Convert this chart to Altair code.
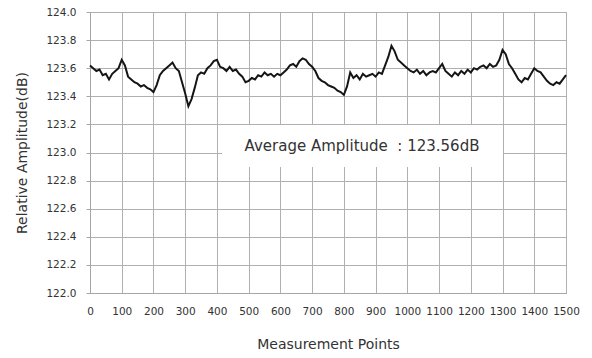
import altair as alt
import pandas as pd

points = list(range(0, 1501, 10))
amplitude = [
    123.62, 123.60, 123.58, 123.59, 123.55, 123.56, 123.52, 123.56, 123.58, 123.60,
    123.66, 123.62, 123.54, 123.52, 123.50, 123.49, 123.47, 123.48, 123.46, 123.45,
    123.43, 123.48, 123.55, 123.58, 123.60, 123.62, 123.64, 123.60, 123.58, 123.50,
    123.42, 123.33, 123.38, 123.46, 123.55, 123.57, 123.56, 123.60, 123.62, 123.65,
    123.66, 123.61, 123.60, 123.58, 123.61, 123.58, 123.59, 123.56, 123.54, 123.50,
    123.51, 123.53, 123.52, 123.55, 123.54, 123.57, 123.55, 123.56, 123.54, 123.56,
    123.55, 123.57, 123.59, 123.62, 123.63, 123.61, 123.65, 123.67, 123.66, 123.63,
    123.61, 123.58, 123.53, 123.51, 123.50, 123.48, 123.47, 123.46, 123.44, 123.43,
    123.41, 123.47, 123.57, 123.53, 123.55, 123.52, 123.56, 123.54, 123.55, 123.56,
    123.54, 123.57, 123.56, 123.62, 123.68, 123.76, 123.72, 123.66, 123.64, 123.62,
    123.60, 123.58, 123.57, 123.59, 123.56, 123.58, 123.55, 123.57, 123.58, 123.57,
    123.60, 123.63, 123.58, 123.56, 123.54, 123.57, 123.55, 123.58, 123.56, 123.59,
    123.57, 123.60, 123.59, 123.61, 123.62, 123.60, 123.63, 123.61, 123.62, 123.66,
    123.73, 123.70, 123.63, 123.60, 123.56, 123.52, 123.50, 123.53, 123.52, 123.56,
    123.60, 123.58, 123.57, 123.54, 123.51, 123.49, 123.48, 123.50, 123.49, 123.52,
    123.55,
]
x_ticks = list(range(0, 1501, 100))
y_ticks = [122.0, 122.2, 122.4, 122.6, 122.8, 123.0, 123.2, 123.4, 123.6, 123.8, 124.0]
annotation = "Average Amplitude\u00a0\u00a0: 123.56dB"

df = pd.DataFrame({"point": points, "amp": amplitude})
one = pd.DataFrame({"label": [annotation]})
FONT = "DejaVu Sans"
TXT = "#333333"
GRID = "#b0b0b0"

x_enc = alt.X("point:Q", scale=alt.Scale(domain=[0, 1500], nice=False),
              axis=alt.Axis(values=x_ticks, format="d", labelOverlap=False, labelFlush=False,
                            title="Measurement Points", ticks=False,
                            labelPadding=13, titlePadding=21, grid=True,
                            gridColor=GRID, gridOpacity=1, gridWidth=1,
                            titleFontWeight="normal"))
y_enc = alt.Y("amp:Q", scale=alt.Scale(domain=[122.0, 124.0], nice=False, zero=False),
              axis=alt.Axis(values=y_ticks, format=".1f", labelOverlap=False, labelFlush=False,
                            title="Relative Amplitude(dB)", tickSize=4,
                            labelPadding=10, titlePadding=16, grid=True,
                            gridColor=GRID, gridOpacity=1, gridWidth=1,
                            titleFontWeight="normal"))

line = alt.Chart(df).mark_line(color="#151515", strokeWidth=2).encode(x=x_enc, y=y_enc)

box = alt.Chart(one).mark_rect(color="white").encode(
    x=alt.value(132), x2=alt.value(413), y=alt.value(113), y2=alt.value(155)
)
label = alt.Chart(one).mark_text(
    font=FONT, fontSize=15, color=TXT, align="center", baseline="middle"
).encode(text="label:N", x=alt.value(272), y=alt.value(134))

chart = alt.layer(box, label, line).properties(
    width=476, height=281,
    padding={"left": 90, "top": 12, "right": 26, "bottom": 65},
    autosize=alt.AutoSizeParams(type="none"),
    background="white",
).configure_view(
    stroke="#a6a6a6", strokeWidth=1
).configure_axis(
    domainColor="#a6a6a6", tickColor="#a6a6a6",
    labelFont=FONT, labelFontSize=10.5, labelColor=TXT,
    titleFont=FONT, titleFontSize=14, titleFontWeight="normal", titleColor=TXT,
)

chart.save("out.html", embed_options={"renderer": "svg", "actions": False})
